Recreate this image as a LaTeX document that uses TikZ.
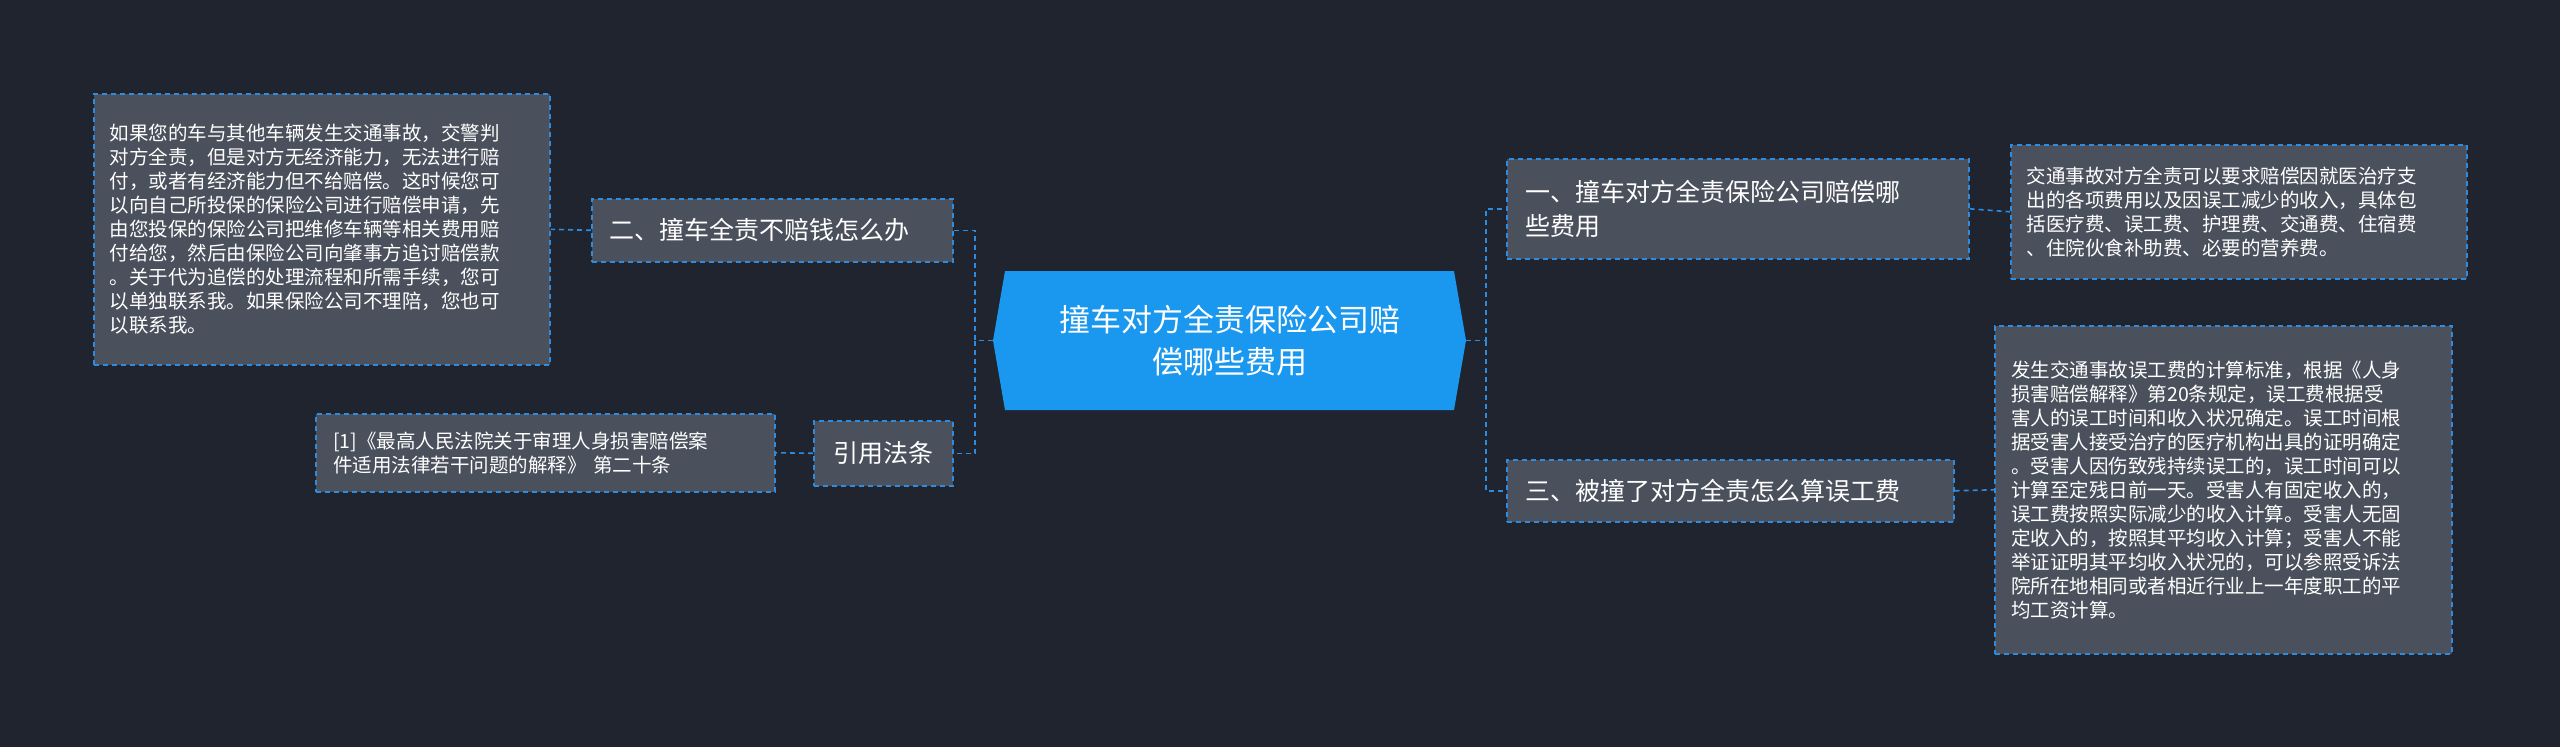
\documentclass[tikz,border=0pt]{standalone}
\usepackage{fontspec}
\setmainfont{Noto Sans CJK SC}
\definecolor{bg}{HTML}{20242F}
\definecolor{boxf}{HTML}{4A505C}
\definecolor{edge}{HTML}{2E8CE0}
\definecolor{main}{HTML}{1A97EE}
\definecolor{txt}{HTML}{FFFFFF}
\begin{document}
\begin{tikzpicture}[x=1pt,y=-1pt,
 conn/.style={draw=edge,dashed,line width=1.6pt,dash pattern=on 5pt off 4pt},
 topic/.style={draw=edge,dashed,line width=1.6pt,dash pattern=on 5pt off 4pt,fill=boxf,text=txt,font=\fontsize{25}{34}\selectfont,align=left,inner sep=0pt,anchor=north west},
 leaf/.style={draw=edge,dashed,line width=1.6pt,dash pattern=on 5pt off 4pt,fill=boxf,text=txt,font=\fontsize{19.5}{24}\selectfont,align=left,inner sep=0pt,anchor=north west}]
\fill[bg] (0,0) rectangle (2560,747);
\useasboundingbox (0,0) rectangle (2560,747);
% central
\fill[main] (993,340.5) -- (1005,271) -- (1454,271) -- (1466,340.5) -- (1454,410) -- (1005,410) -- cycle;
\node[text=txt,minimum width=473pt,minimum height=139pt,align=center,font=\fontsize{31}{42}\selectfont,inner sep=0pt] (c) at (1229.5,340.5) {撞车对方全责保险公司赔\\偿哪些费用};
% topics
\node[topic,minimum width=462pt,minimum height=100pt,text width=445pt] (t1) at (1506,158) {\hspace*{10pt}一、撞车对方全责保险公司赔偿哪\\\hspace*{10pt}些费用};
\node[topic,minimum width=447pt,minimum height=62pt,text width=430pt] (t3) at (1506,459) {\hspace*{10pt}三、被撞了对方全责怎么算误工费};
\node[topic,minimum width=361pt,minimum height=63pt,text width=345pt] (t2) at (591,198) {\hspace*{10pt}二、撞车全责不赔钱怎么办};
\node[topic,minimum width=139pt,minimum height=65pt,align=center,text width=139pt] (t4) at (813,420) {引用法条};
% leaves
\node[leaf,minimum width=456pt,minimum height=134pt,text width=440pt] (l1) at (2010,144) {\hspace*{8pt}\parbox{436pt}{交通事故对方全责可以要求赔偿因就医治疗支\\出的各项费用以及因误工减少的收入，具体包\\括医疗费、误工费、护理费、交通费、住宿费\\、住院伙食补助费、必要的营养费。}};
\node[leaf,minimum width=457pt,minimum height=328pt,text width=440pt] (l3) at (1994,325) {\hspace*{8pt}\parbox{436pt}{发生交通事故误工费的计算标准，根据《人身\\损害赔偿解释》第20条规定，误工费根据受\\害人的误工时间和收入状况确定。误工时间根\\据受害人接受治疗的医疗机构出具的证明确定\\。受害人因伤致残持续误工的，误工时间可以\\计算至定残日前一天。受害人有固定收入的，\\误工费按照实际减少的收入计算。受害人无固\\定收入的，按照其平均收入计算；受害人不能\\举证证明其平均收入状况的，可以参照受诉法\\院所在地相同或者相近行业上一年度职工的平\\均工资计算。}};
\node[leaf,minimum width=456pt,minimum height=271pt,text width=440pt] (l2) at (93,93) {\hspace*{8pt}\parbox{436pt}{如果您的车与其他车辆发生交通事故，交警判\\对方全责，但是对方无经济能力，无法进行赔\\付，或者有经济能力但不给赔偿。这时候您可\\以向自己所投保的保险公司进行赔偿申请，先\\由您投保的保险公司把维修车辆等相关费用赔\\付给您，然后由保险公司向肇事方追讨赔偿款\\。关于代为追偿的处理流程和所需手续，您可\\以单独联系我。如果保险公司不理陪，您也可\\以联系我。}};
\node[leaf,minimum width=459pt,minimum height=78pt,text width=440pt] (l4) at (315,413) {\hspace*{8pt}\parbox{440pt}{[1]《最高人民法院关于审理人身损害赔偿案\\件适用法律若干问题的解释》 第二十条}};
% connectors
\coordinate (rj) at (1486,340.5);
\coordinate (lj) at (975,340.5);
\draw[conn] (c.east) -- (rj) |- (t1.west);
\draw[conn] (rj) |- (t3.west);
\draw[conn] (c.west) -- (lj) |- (t2.east);
\draw[conn] (lj) |- (t4.east);
\draw[conn] (t1.east) -- (l1.west);
\draw[conn] (t3.east) -- (l3.west);
\draw[conn] (t2.west) -- (l2.east);
\draw[conn] (t4.west) -- (l4.east);
\end{tikzpicture}
\end{document}
